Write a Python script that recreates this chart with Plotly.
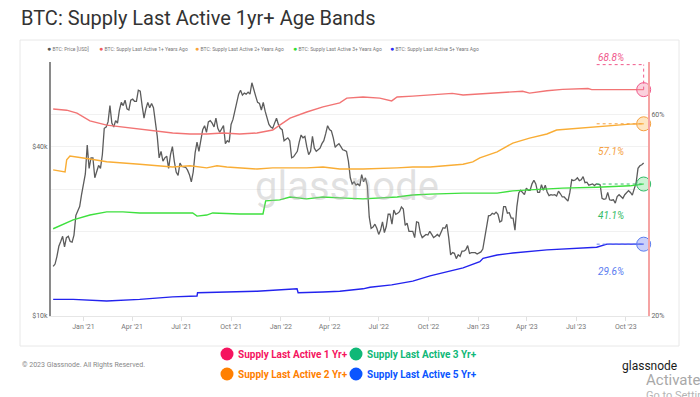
import math
import pandas as pd
import plotly.graph_objects as go

# ---------------- data ----------------
# BTC price (USD, thousands): weekly readings from 2020-11-06 ...
price_2020 = [15.0, 16.3, 18.4, 17.6, 19.2, 18.3, 22.8, 24.5]
price_2021 = [29.4, 40.5, 36.5, 31.0, 34.3, 37.5, 47.0, 56.0, 47.0, 48.5, 57.5, 58.5, 54.0,
              59.0, 58.0, 63.0, 50.5, 57.5, 57.0, 48.5, 36.5, 35.5, 37.0, 37.5, 35.5, 31.6,
              34.0, 33.8, 31.8, 32.5, 41.5, 42.8, 47.5, 49.0, 48.5, 50.5, 45.0, 47.5, 42.0,
              48.0, 54.0, 61.5, 61.0, 61.5, 61.5, 64.5, 57.5, 54.0, 53.5, 48.0, 46.5, 50.5, 46.5]
price_2022 = [42.0, 43.0, 36.5, 37.5, 41.5, 43.0, 40.0, 38.5, 39.5, 39.0, 41.0, 44.5,
              46.0, 43.0, 40.5, 40.0, 38.8, 35.5, 29.5, 29.2, 29.0, 30.0, 29.0, 20.5, 21.2,
              19.5, 21.6, 20.8, 23.0, 23.8, 23.2, 24.4, 21.0, 20.0, 20.0, 21.6, 19.7, 19.2, 19.4,
              19.5, 19.2, 19.2, 20.6, 21.2, 16.5, 16.7, 16.5, 17.0, 17.2, 16.7, 16.8, 16.6]
price_2023 = [16.9, 19.0, 22.7, 23.2, 23.4, 21.6, 24.5, 23.2, 22.3, 20.2, 27.4, 27.6, 28.5,
              28.0, 30.4, 27.5, 29.3, 29.2, 26.8, 26.9, 26.7, 27.2, 26.5, 25.6, 30.5, 30.5,
              30.3, 31.3, 29.9, 29.3, 29.1, 29.4, 26.2, 26.1, 25.9, 25.9, 26.6, 26.6, 27.0,
              27.9, 26.9, 29.7, 34.2, 35.0]
# ... and mid-week readings (between consecutive weekly readings)
mid_2020 = [15.3, 17.7, 19.2, 19.0, 18.4, 19.4, 23.8, 27.0]
mid_2021 = [32.0, 33.5, 36.5, 32.5, 33.5, 46.5, 49.0, 48.5, 49.5, 54.0, 56.0, 54.5, 58.5,
            58.0, 63.5, 56.0, 54.5, 55.0, 55.0, 43.5, 38.5, 36.5, 33.5, 40.0, 32.5, 35.0,
            34.0, 33.0, 30.0, 38.0, 38.5, 46.0, 45.0, 49.5, 47.0, 46.5, 46.0, 41.0, 41.5,
            50.0, 57.0, 63.5, 62.0, 62.5, 67.5, 60.5, 57.0, 57.5, 50.5, 47.0, 48.5, 48.0, 46.0]
mid_2022 = [42.5, 42.0, 36.8, 38.5, 44.0, 43.5, 37.5, 43.5, 38.5, 39.5, 42.0, 47.5,
            45.5, 39.8, 41.0, 39.0, 38.5, 31.0, 30.0, 29.5, 31.8, 31.0, 22.5, 20.7, 20.5,
            20.2, 19.8, 23.0, 21.2, 23.0, 23.5, 24.0, 21.4, 20.0, 19.0, 21.5, 19.0, 19.5, 20.0,
            19.0, 19.5, 19.8, 20.5, 19.0, 16.8, 16.0, 16.3, 17.0, 17.8, 16.8, 16.8, 16.7]
mid_2023 = [17.3, 21.2, 22.8, 23.0, 23.0, 21.8, 24.5, 23.3, 22.3, 24.5, 28.0, 27.0, 28.0,
            29.5, 29.5, 27.5, 28.0, 27.6, 27.0, 27.0, 27.8, 26.5, 26.0, 27.5, 30.3, 31.0,
            30.5, 29.8, 29.2, 29.5, 29.5, 29.3, 26.0, 27.5, 25.8, 25.2, 27.0, 26.2, 27.5,
            27.5, 28.3, 33.5, 34.5]
price_start = "2020-11-06"

# Supply last active 1+ years ago (%)
s1_dates = ["2020-11-06", "2020-12-01", "2020-12-20", "2021-01-13", "2021-02-13", "2021-03-15",
            "2021-04-15", "2021-05-17", "2021-06-15", "2021-07-17", "2021-08-17", "2021-09-16",
            "2021-10-17", "2021-11-18", "2021-12-17", "2021-12-30", "2022-01-18", "2022-02-18",
            "2022-03-20", "2022-04-20", "2022-05-03", "2022-06-02", "2022-07-03", "2022-07-25",
            "2022-08-04", "2022-09-02", "2022-10-04", "2022-11-14", "2022-12-04", "2023-01-04",
            "2023-02-05", "2023-03-06", "2023-03-24", "2023-04-06", "2023-05-08", "2023-06-06",
            "2023-07-23", "2023-07-30", "2023-09-07", "2023-10-09", "2023-11-03"]
s1_vals = [61.9, 61.5, 60.5, 58.0, 56.7, 56.1, 55.5, 54.9, 54.3, 54.0, 54.0, 54.3,
           54.0, 54.3, 55.2, 56.7, 58.9, 60.9, 62.6, 64.0, 65.7, 66.1, 65.7, 64.7,
           66.1, 66.4, 66.8, 67.4, 66.8, 67.2, 67.5, 68.1, 68.2, 67.5, 68.4, 68.9,
           69.2, 68.8, 68.9, 68.9, 68.8]

# Supply last active 2+ years ago (%)
s2_dates = ["2020-11-06", "2020-11-28", "2020-12-01", "2020-12-07", "2021-01-13", "2021-02-13",
            "2021-04-15", "2021-06-15", "2021-07-17", "2021-08-17", "2021-09-05", "2021-09-23",
            "2021-11-18", "2021-12-17", "2022-02-18", "2022-03-20", "2022-04-20", "2022-06-02",
            "2022-08-04", "2022-09-02", "2022-10-04", "2022-11-04", "2022-12-04", "2022-12-22",
            "2023-01-04", "2023-02-05", "2023-03-06", "2023-04-06", "2023-05-08", "2023-05-26",
            "2023-07-08", "2023-07-26", "2023-09-07", "2023-10-09", "2023-11-03"]
s2_vals = [44.4, 43.9, 46.9, 47.9, 47.1, 46.4, 45.8, 45.1, 45.4, 44.9, 45.4, 45.1,
           44.6, 44.9, 44.9, 45.1, 44.6, 44.6, 44.9, 45.1, 45.1, 45.4, 45.8, 46.4,
           47.4, 49.0, 51.4, 52.8, 54.0, 55.2, 55.8, 56.1, 56.7, 57.0, 57.1]

# Supply last active 3+ years ago (%)
s3_dates = ["2020-11-06", "2020-12-13", "2021-01-13", "2021-02-13", "2021-03-15", "2021-04-15",
            "2021-06-15", "2021-07-22", "2021-07-30", "2021-08-17", "2021-08-28", "2021-10-17",
            "2021-11-29", "2021-12-04", "2021-12-30", "2022-01-18", "2022-02-18", "2022-03-20",
            "2022-04-20", "2022-06-02", "2022-08-04", "2022-09-02", "2022-10-04", "2022-12-04",
            "2023-02-05", "2023-03-06", "2023-04-06", "2023-06-06", "2023-08-08", "2023-10-09",
            "2023-11-03"]
s3_vals = [32.2, 33.8, 34.7, 35.3, 35.3, 35.1, 35.1, 35.1, 34.5, 34.7, 35.1, 34.9,
           34.9, 37.5, 37.7, 38.3, 37.9, 38.3, 38.1, 37.9, 38.3, 38.7, 38.9, 39.1,
           39.1, 39.6, 39.8, 40.2, 40.4, 40.7, 41.1]

# Supply last active 5+ years ago (%)
s5_dates = ["2020-11-06", "2020-12-13", "2021-02-13", "2021-04-15", "2021-06-15", "2021-07-30",
            "2021-07-31", "2021-09-16", "2021-11-18", "2022-01-31", "2022-02-02", "2022-03-20",
            "2022-04-20", "2022-06-02", "2022-06-15", "2022-07-25", "2022-09-02", "2022-10-04",
            "2022-12-04", "2023-01-04", "2023-01-10", "2023-02-05", "2023-03-06", "2023-05-08",
            "2023-07-08", "2023-08-08", "2023-08-27", "2023-10-09", "2023-11-03"]
s5_vals = [21.9, 21.9, 21.7, 21.9, 22.2, 22.3, 22.7, 22.8, 22.9, 23.2, 22.7, 22.8,
           22.9, 23.2, 23.4, 23.7, 24.2, 24.9, 26.0, 26.9, 27.4, 27.9, 28.2, 28.7,
           29.0, 29.1, 29.6, 29.6, 29.6]

legend_top = ["BTC: Price [USD]", "BTC: Supply Last Active 1+ Years Ago",
              "BTC: Supply Last Active 2+ Years Ago", "BTC: Supply Last Active 3+ Years Ago",
              "BTC: Supply Last Active 5+ Years Ago"]
legend_bottom = ["Supply Last Active 1 Yr+", "Supply Last Active 2 Yr+",
                 "Supply Last Active 3 Yr+", "Supply Last Active 5 Yr+"]

# ---------------- styling ----------------
W, H = 700, 397
L, R, T, B = 51, 648, 62, 316
FONT = "Roboto"


def px(x):
    return (x - L) / (R - L)


def py(y):
    return (B - y) / (B - T)


weekly = price_2020 + price_2021 + price_2022 + price_2023
mid = mid_2020 + mid_2021 + mid_2022 + mid_2023
price_k = []
for i, w in enumerate(weekly):
    price_k.append(w)
    if i < len(mid):
        price_k.append(mid[i])
price_dates = pd.date_range(price_start, periods=len(price_k), freq="84h")
price_usd = [v * 1000 for v in price_k]

fig = go.Figure()
fig.add_trace(go.Scatter(x=price_dates, y=price_usd, mode="lines",
                         line=dict(color="#5c5c5c", width=1.3), yaxis="y"))

series = [
    (s1_dates, s1_vals, "#f27474", "#f0588a", "rgba(245,140,170,0.4)", 32, 25),
    (s2_dates, s2_vals, "#f9ad35", "#f5a040", "rgba(252,200,120,0.45)", -28, -34),
    (s3_dates, s3_vals, "#3ee03e", "#33bb66", "rgba(130,225,150,0.4)", -31, -38),
    (s5_dates, s5_vals, "#2323ee", "#5a7cf0", "rgba(140,150,245,0.45)", -27, -34),
]
shapes = []
annotations = []
end_markers = []
for d, v, col, tcol, fcol, ty, ly in series:
    fig.add_trace(go.Scatter(x=d, y=v, mode="lines", line=dict(color=col, width=1.4),
                             yaxis="y2"))
    xe, ye = d[-1], v[-1]
    # dotted leader lines
    shapes.append(dict(type="line", xref="x", yref="y2", xsizemode="pixel",
                       ysizemode="pixel", xanchor=xe, yanchor=ye, x0=0, x1=0,
                       y0=0, y1=ly, line=dict(color=tcol, width=1, dash="dot")))
    shapes.append(dict(type="line", xref="x", yref="y2", xsizemode="pixel",
                       ysizemode="pixel", xanchor=xe, yanchor=ye, x0=-47, x1=0,
                       y0=ly, y1=ly, line=dict(color=tcol, width=1, dash="dot")))
    end_markers.append((xe, ye, tcol, fcol))
    annotations.append(dict(x=xe, y=math.log10(ye), xref="x", yref="y2",
                            text=f"<i>{ye:.1f}%</i>", showarrow=False,
                            xshift=-33, yshift=ty,
                            font=dict(family=FONT, size=10, color=tcol)))

# endpoint circles
for xe, ye, tcol, fcol in end_markers:
    fig.add_trace(go.Scatter(x=[xe], y=[ye], mode="markers", yaxis="y2", cliponaxis=False,
                             marker=dict(size=14, color=fcol,
                                         line=dict(color=tcol, width=1))))

# card
shapes.append(dict(type="rect", xref="paper", yref="paper", x0=px(20), x1=px(679),
                   y0=py(346), y1=py(40), line=dict(color="#e8e8e8", width=1),
                   layer="below"))

# title
annotations.append(dict(x=px(19), y=py(18), xref="paper", yref="paper", xanchor="left",
                        yanchor="middle", showarrow=False,
                        text="BTC: Supply Last Active 1yr+ Age Bands",
                        font=dict(family=FONT, size=20, color="#333333")))
# watermark
annotations.append(dict(x=px(347), y=py(186), xref="paper", yref="paper", showarrow=False,
                        text="glassnode", font=dict(family=FONT, size=40,
                                                    color="rgba(170,170,170,0.35)")))
# top legend
top_cols = ["#555555", "#ee5c5c", "#f9a53a", "#33dd33", "#2b2bf5"]
top_x = [45, 97, 193, 291, 388]
for name, c, x in zip(legend_top, top_cols, top_x):
    annotations.append(dict(x=px(x), y=py(49), xref="paper", yref="paper", xanchor="left",
                            yanchor="middle", showarrow=False,
                            text=f"<span style='color:{c};font-size:7px'>●</span> {name}",
                            font=dict(family=FONT, size=5, color="#777777")))
# bottom legend
bot_cols = ["#f5145f", "#ff8000", "#10b877", "#0b55ff"]
bot_pos = [(227, 354), (227, 374), (356, 354), (356, 374)]
for name, c, (x, y) in zip(legend_bottom, bot_cols, bot_pos):
    shapes.append(dict(type="circle", xref="paper", yref="paper", xsizemode="pixel",
                       ysizemode="pixel", xanchor=px(x), yanchor=py(y), x0=-6.5, x1=6.5,
                       y0=-6.5, y1=6.5, fillcolor=c, line=dict(width=0)))
    annotations.append(dict(x=px(x + 9), y=py(y), xref="paper", yref="paper",
                            xanchor="left", yanchor="middle", showarrow=False,
                            text=f"<b>{name}</b>",
                            font=dict(family=FONT, size=10, color=c)))
# footer texts
annotations.append(dict(x=px(20), y=py(365), xref="paper", yref="paper", xanchor="left",
                        yanchor="middle", showarrow=False,
                        text="© 2023 Glassnode. All Rights Reserved.",
                        font=dict(family=FONT, size=7, color="#888888")))
annotations.append(dict(x=px(620), y=py(366), xref="paper", yref="paper", xanchor="left",
                        yanchor="middle", showarrow=False, text="glassnode",
                        font=dict(family=FONT, size=12, color="#1a1a1a")))
annotations.append(dict(x=px(644), y=py(380), xref="paper", yref="paper", xanchor="left",
                        yanchor="middle", showarrow=False, text="Activate",
                        font=dict(family=FONT, size=15, color="#a8a8a8")))
annotations.append(dict(x=px(644), y=py(395), xref="paper", yref="paper", xanchor="left",
                        yanchor="middle", showarrow=False, text="Go to Settings",
                        font=dict(family=FONT, size=11, color="#b5b5b5")))

fig.update_layout(
    width=W, height=H, showlegend=False,
    margin=dict(l=L, r=W - R, t=T, b=H - B, pad=0),
    paper_bgcolor="white", plot_bgcolor="white",
    font=dict(family=FONT, size=7, color="#666666"),
    xaxis=dict(type="date", range=["2020-11-02", "2023-11-11"], dtick="M3",
               tick0="2021-01-01", tickformat="%b '%y", showgrid=False,
               showline=True, linecolor="#e6e6e6", linewidth=1, ticks="outside",
               ticklen=4, tickcolor="#e0e0e0", tickfont=dict(size=7, color="#777777"),
               zeroline=False),
    yaxis=dict(type="log", range=[4, 4.90309], tickvals=[10000, 20000, 40000, 80000],
               ticktext=["$10k", "", "$40k", ""], showgrid=True, gridcolor="#f1f1f1",
               showline=True, linecolor="#8a8a8a", linewidth=2, ticks="",
               tickfont=dict(size=7, color="#666666"), zeroline=False),
    yaxis2=dict(type="log", range=[1.30103, 1.90309], overlaying="y", side="right",
                tickvals=[20, 40, 60, 80], ticktext=["20%", "", "60%", ""],
                showgrid=True, gridcolor="#f1f1f1", showline=True, linecolor="#f5a3a3",
                linewidth=2, ticks="", tickfont=dict(size=7, color="#666666"),
                zeroline=False),
    shapes=shapes, annotations=annotations,
)

fig.write_html("out.html", config={"displayModeBar": False},
               post_script="document.body.style.margin='0px';")
